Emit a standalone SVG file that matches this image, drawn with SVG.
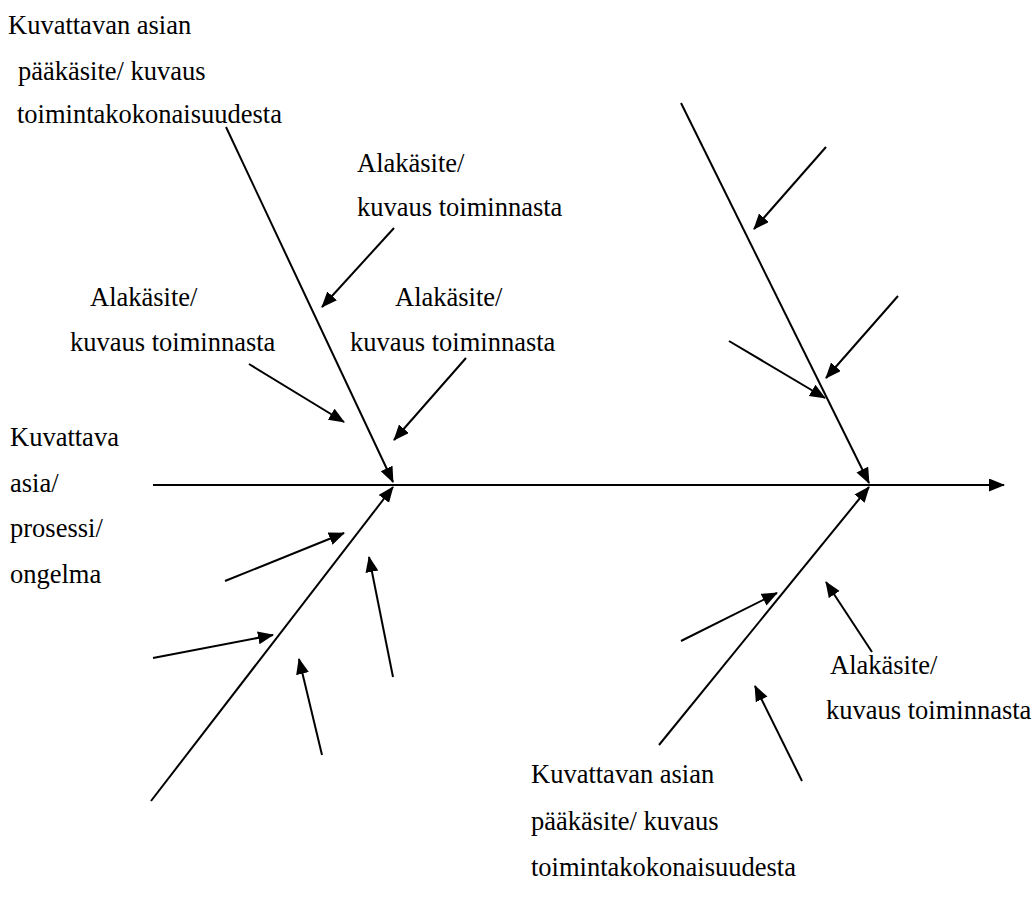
<svg xmlns="http://www.w3.org/2000/svg" width="1035" height="906" viewBox="0 0 1035 906">
<style>
text{font-family:"Liberation Serif","Times New Roman",serif;font-size:26.5px;fill:#000}
.ln{stroke:#000;stroke-width:2;fill:none}
.ar{marker-end:url(#ah)}
</style>
<defs>
<marker id="ah" markerUnits="userSpaceOnUse" markerWidth="17" markerHeight="14" refX="15" refY="6.5" orient="auto" viewBox="0 0 17 14">
<path d="M0,0 L16,6.5 L0,13 z" fill="#000"/>
</marker>
</defs>
<rect width="1035" height="906" fill="#fff"/>
<g id="connectors">
<line class="ln ar" x1="153" y1="485" x2="1004" y2="485"/>
<line class="ln ar" x1="226" y1="127" x2="393" y2="482"/>
<line class="ln ar" x1="151" y1="801" x2="393" y2="487"/>
<line class="ln ar" x1="681" y1="103" x2="869" y2="483"/>
<line class="ln ar" x1="659" y1="745" x2="869" y2="487"/>
<line class="ln ar" x1="394" y1="228" x2="322" y2="307"/>
<line class="ln ar" x1="249" y1="364" x2="344" y2="422"/>
<line class="ln ar" x1="466" y1="358" x2="394" y2="440"/>
<line class="ln ar" x1="225" y1="581" x2="344" y2="533"/>
<line class="ln ar" x1="153" y1="658" x2="273" y2="635"/>
<line class="ln ar" x1="393" y1="677" x2="369" y2="557"/>
<line class="ln ar" x1="322" y1="755" x2="299" y2="659"/>
<line class="ln ar" x1="826" y1="147" x2="754" y2="229"/>
<line class="ln ar" x1="898" y1="296" x2="826" y2="378"/>
<line class="ln ar" x1="729" y1="341" x2="825" y2="398"/>
<line class="ln ar" x1="681" y1="641" x2="777" y2="593"/>
<line class="ln ar" x1="872" y1="652" x2="826" y2="582"/>
<line class="ln ar" x1="802" y1="781" x2="755" y2="686"/>
</g>
<g id="main-top">
<text x="8" y="34">Kuvattavan asian</text>
<text x="18" y="80">pääkäsite/ kuvaus</text>
<text x="17" y="123">toimintakokonaisuudesta</text>
</g>
<g id="sub-top">
<text x="357" y="172">Alakäsite/</text>
<text x="357" y="216">kuvaus toiminnasta</text>
</g>
<g id="sub-left">
<text x="90" y="306">Alakäsite/</text>
<text x="70" y="351">kuvaus toiminnasta</text>
</g>
<g id="sub-mid">
<text x="395" y="306">Alakäsite/</text>
<text x="350" y="351">kuvaus toiminnasta</text>
</g>
<g id="head">
<text x="10" y="446">Kuvattava</text>
<text x="10" y="492">asia/</text>
<text x="10" y="537">prosessi/</text>
<text x="10" y="583">ongelma</text>
</g>
<g id="sub-right">
<text x="830" y="674">Alakäsite/</text>
<text x="826" y="719">kuvaus toiminnasta</text>
</g>
<g id="main-bottom">
<text x="531" y="783">Kuvattavan asian</text>
<text x="531" y="830">pääkäsite/ kuvaus</text>
<text x="531" y="876">toimintakokonaisuudesta</text>
</g>
</svg>
